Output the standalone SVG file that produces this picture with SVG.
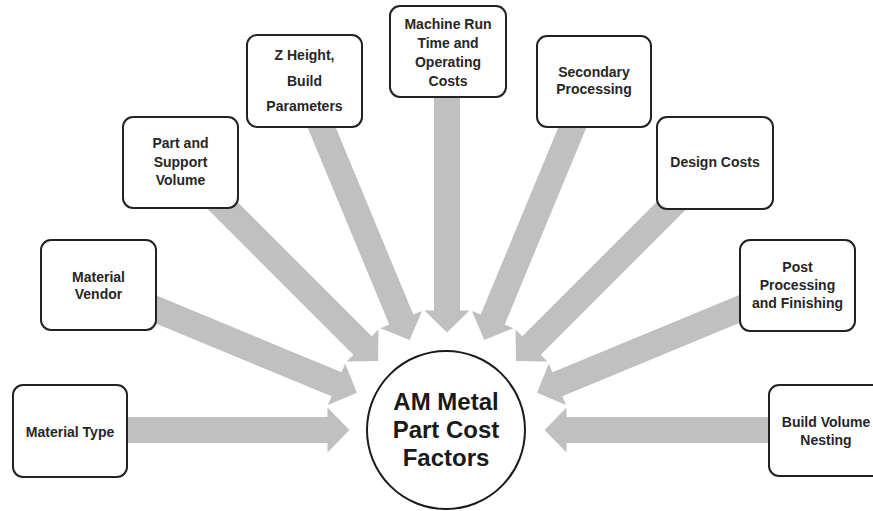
<svg xmlns="http://www.w3.org/2000/svg" xmlns:xlink="http://www.w3.org/1999/xlink" width="873" height="511" viewBox="0 0 873 511">
  <style>
    .box { fill: #ffffff; stroke: #222222; stroke-width: 2; }
    .lbl { font-family: "Liberation Sans", Arial, sans-serif; font-weight: bold; font-size: 14px; fill: #262626; text-anchor: middle; }
    .hub { font-family: "Liberation Sans", Arial, sans-serif; font-weight: bold; font-size: 24px; fill: #1a1a1a; text-anchor: middle; }
    .arrow { fill: #c0c0c0; }
  </style>
  <defs>
    <!-- block arrow pointing along +x, tip at the origin -->
    <path id="blockArrow" d="M -270 -13 L -22 -13 L -22 -22.5 L 0 0 L -22 22.5 L -22 13 L -270 13 Z"/>
  </defs>

  <rect width="873" height="511" fill="#ffffff"/>

  <!-- connectors: arrows converging on the hub, tips at r=97.5 from (447,430) -->
  <g id="connectors" class="arrow">
    <use xlink:href="#blockArrow" transform="translate(349.5,430) rotate(0)"/>
    <use xlink:href="#blockArrow" transform="translate(356.9,392.7) rotate(22.5)"/>
    <use xlink:href="#blockArrow" transform="translate(378.06,361.06) rotate(45)"/>
    <use xlink:href="#blockArrow" transform="translate(409.69,339.92) rotate(67.5)"/>
    <use xlink:href="#blockArrow" transform="translate(447,332.5) rotate(90)"/>
    <use xlink:href="#blockArrow" transform="translate(484.31,339.92) rotate(112.5)"/>
    <use xlink:href="#blockArrow" transform="translate(515.94,361.06) rotate(135)"/>
    <use xlink:href="#blockArrow" transform="translate(537.08,392.69) rotate(157.5)"/>
    <use xlink:href="#blockArrow" transform="translate(544.5,430) rotate(180)"/>
  </g>

  <g id="material-type">
    <rect class="box" x="13" y="385" width="114" height="92" rx="10"/>
    <text class="lbl" x="70" y="437">Material Type</text>
  </g>

  <g id="material-vendor">
    <rect class="box" x="41" y="240" width="115" height="90" rx="10"/>
    <text class="lbl" x="98.5" y="282">Material</text>
    <text class="lbl" x="98.5" y="299">Vendor</text>
  </g>

  <g id="part-support-volume">
    <rect class="box" x="123" y="117" width="115" height="91" rx="10"/>
    <text class="lbl" x="180.5" y="148">Part and</text>
    <text class="lbl" x="180.5" y="167">Support</text>
    <text class="lbl" x="180.5" y="185">Volume</text>
  </g>

  <g id="z-height">
    <rect class="box" x="247" y="35" width="115" height="92" rx="10"/>
    <text class="lbl" x="304.5" y="60">Z Height,</text>
    <text class="lbl" x="304.5" y="86">Build</text>
    <text class="lbl" x="304.5" y="111">Parameters</text>
  </g>

  <g id="machine-run">
    <rect class="box" x="390" y="6" width="116" height="91" rx="10"/>
    <text class="lbl" x="448" y="29">Machine Run</text>
    <text class="lbl" x="448" y="48">Time and</text>
    <text class="lbl" x="448" y="67">Operating</text>
    <text class="lbl" x="448" y="86">Costs</text>
  </g>

  <g id="secondary-processing">
    <rect class="box" x="537" y="36" width="114" height="91" rx="10"/>
    <text class="lbl" x="594" y="77">Secondary</text>
    <text class="lbl" x="594" y="94">Processing</text>
  </g>

  <g id="design-costs">
    <rect class="box" x="657" y="117" width="116" height="92" rx="10"/>
    <text class="lbl" x="715" y="167">Design Costs</text>
  </g>

  <g id="post-processing">
    <rect class="box" x="740" y="240" width="115" height="91" rx="10"/>
    <text class="lbl" x="797.5" y="272">Post</text>
    <text class="lbl" x="797.5" y="290">Processing</text>
    <text class="lbl" x="797.5" y="308">and Finishing</text>
  </g>

  <g id="build-volume">
    <rect class="box" x="769" y="385" width="114" height="91" rx="10"/>
    <text class="lbl" x="826" y="427">Build Volume</text>
    <text class="lbl" x="826" y="445">Nesting</text>
  </g>

  <g id="hub">
    <circle cx="446" cy="430" r="79" fill="#ffffff" stroke="#1a1a1a" stroke-width="2"/>
    <text class="hub" x="446" y="410">AM Metal</text>
    <text class="hub" x="446" y="438">Part Cost</text>
    <text class="hub" x="446" y="466">Factors</text>
  </g>
</svg>
